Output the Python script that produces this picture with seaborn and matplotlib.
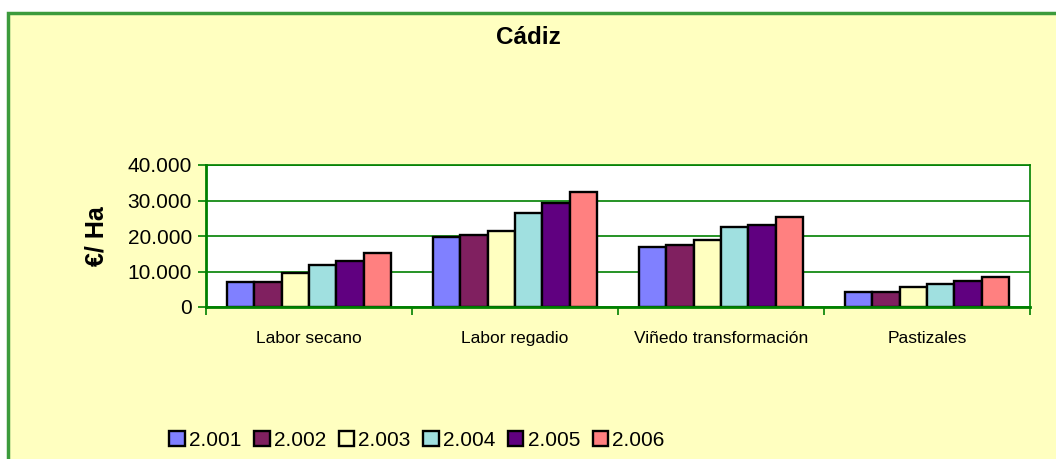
import numpy as np
import pandas as pd
import matplotlib
matplotlib.use("Agg")
import matplotlib.pyplot as plt
import seaborn as sns
from matplotlib.patches import Rectangle

# data
categorias = ["Labor secano", "Labor regadio", "Viñedo transformación", "Pastizales"]
anios = ["2.001", "2.002", "2.003", "2.004", "2.005", "2.006"]
v2001 = [7050, 19600, 16800, 4250]
v2002 = [7050, 20150, 17350, 4250]
v2003 = [9450, 21300, 19000, 5500]
v2004 = [11700, 26450, 22400, 6600]
v2005 = [12900, 29200, 23000, 7250]
v2006 = [15100, 32450, 25250, 8400]
colores = ["#8080FF", "#802060", "#FFFFC0", "#A0E0E0", "#600080", "#FF8080"]

series = [v2001, v2002, v2003, v2004, v2005, v2006]
rows = []
for a, vals in zip(anios, series):
    for c, v in zip(categorias, vals):
        rows.append({"categoria": c, "anio": a, "valor": v})
df = pd.DataFrame(rows)

sns.set_style("white")
plt.rcParams['font.family'] = ['Liberation Sans', 'DejaVu Sans']
plt.rcParams['text.color'] = 'black'
plt.rcParams['xtick.labelcolor'] = 'black'
plt.rcParams['ytick.labelcolor'] = 'black'
plt.rcParams['axes.labelcolor'] = 'black'

verde = "#008000"
fondo = "#FFFFC0"

fig = plt.figure(figsize=(10.56, 4.59), dpi=100)
fig.patch.set_facecolor("white")
fig.patches.append(Rectangle((8 / 1056, -0.1), 1.2, 1 - 13 / 459 + 0.1,
                             transform=fig.transFigure, facecolor=fondo,
                             edgecolor="#3C9B3C", lw=2.5, zorder=-5))

ax = fig.add_axes([206 / 1056, 1 - 307 / 459, 824 / 1056, 142 / 459])
ax.set_zorder(2)
ax.set_facecolor("white")
sns.barplot(data=df, x="categoria", y="valor", hue="anio", palette=colores,
            saturation=1, edgecolor="black", linewidth=1.7, width=0.8,
            ax=ax, legend=True)

ax.set_ylim(0, 40000)
ax.set_xlim(-0.5, 3.5)
ax.set_yticks([0, 10000, 20000, 30000, 40000])
ax.set_yticklabels(["0", "10.000", "20.000", "30.000", "40.000"], fontsize=15)
ax.yaxis.grid(True, color=verde, lw=1.2)
ax.set_axisbelow(True)
for s in ax.spines.values():
    s.set_color(verde)
    s.set_linewidth(1.2)
ax.spines["left"].set_linewidth(2)
ax.spines["bottom"].set_linewidth(2)
ax.tick_params(axis="y", left=True, length=6, color=verde, width=1.2, pad=4)
ax.set_xticks([-0.5, 0.5, 1.5, 2.5, 3.5], minor=True)
ax.tick_params(axis="x", which="minor", bottom=True, length=6, color=verde, width=1.2)
ax.tick_params(axis="x", which="major", length=0, labelsize=12.5, pad=17)
ax.set_xlabel("")
ax.set_ylabel("€/ Ha", fontsize=18, fontweight="bold", labelpad=14)

fig.text(0.5, 1 - 37 / 459, "Cádiz", ha="center", va="center", fontsize=17.5,
         fontweight="bold", color="black")

handles, labels = ax.get_legend_handles_labels()
ax.get_legend().remove()
fig.legend(handles, labels, loc="center", bbox_to_anchor=(417 / 1056, 1 - 440 / 459),
           ncol=6, frameon=False, fontsize=15, handlelength=0.75, handleheight=0.75,
           handletextpad=0.2, columnspacing=0.6)

fig.savefig("out.png", dpi=100, facecolor=fig.get_facecolor())
